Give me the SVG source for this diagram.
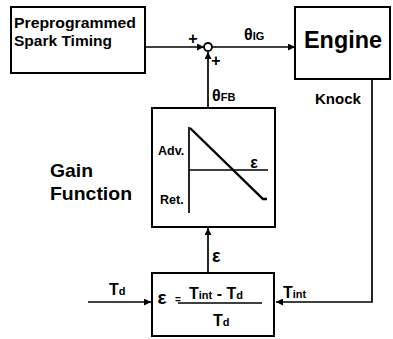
<svg xmlns="http://www.w3.org/2000/svg" width="393" height="339" viewBox="0 0 393 339">
<defs>
<style>
.box{fill:#fff;stroke:#000;stroke-width:2}
.ln{fill:none;stroke:#000;stroke-width:1.7}
.t{font-family:"Liberation Sans",Arial,sans-serif;font-weight:bold;fill:#000}
</style>
<marker id="ah" viewBox="0 0 10 10" refX="10" refY="5" markerWidth="7" markerHeight="7" markerUnits="userSpaceOnUse" orient="auto"><path d="M0,0 L10,5 L0,10 z" fill="#000"/></marker>
</defs>
<rect width="393" height="339" fill="#fff"/>
<g id="connectors">
<path class="ln" d="M145,47 H204" marker-end="url(#ah)"/>
<path class="ln" d="M212,47 H295" marker-end="url(#ah)"/>
<path class="ln" d="M208,108 V52" marker-end="url(#ah)"/>
<path class="ln" d="M208,273 V228" marker-end="url(#ah)"/>
<path class="ln" d="M88,302 H151" marker-end="url(#ah)"/>
<path class="ln" d="M372,79 V302 H276" marker-end="url(#ah)"/>
</g>
<g id="preprogrammed">
<rect class="box" x="11" y="7" width="134" height="66"/>
<text class="t" x="14" y="28" font-size="14" textLength="122" lengthAdjust="spacingAndGlyphs">Preprogrammed</text>
<text class="t" x="14" y="46" font-size="14" textLength="98" lengthAdjust="spacingAndGlyphs">Spark Timing</text>
</g>
<g id="sum">
<circle cx="208" cy="47" r="4" fill="#fff" stroke="#000" stroke-width="1.8"/>
<text class="t" x="193" y="44" font-size="16" text-anchor="middle">+</text>
<text class="t" x="216" y="66" font-size="16" text-anchor="middle">+</text>
</g>
<g id="engine">
<rect class="box" x="295" y="7" width="95" height="72"/>
<text class="t" x="343" y="48" font-size="24" text-anchor="middle" textLength="78" lengthAdjust="spacingAndGlyphs">Engine</text>
</g>
<g id="gain">
<rect class="box" x="152" y="108" width="123" height="119"/>
<path class="ln" d="M189,127 V213 M189,170 H268"/>
<path d="M190,128 L263,199 H267" fill="none" stroke="#000" stroke-width="2.4"/>
<text class="t" x="158" y="155" font-size="12.5">Adv.</text>
<text class="t" x="160" y="204" font-size="12.5">Ret.</text>
<text class="t" x="254" y="168" font-size="16" text-anchor="middle">ε</text>
</g>
<g id="formula">
<rect class="box" x="152" y="273" width="122" height="63"/>
<text class="t" x="162" y="304" font-size="19" text-anchor="middle">ε</text>
<text class="t" x="178" y="303" font-size="10" text-anchor="middle">=</text>
<text class="t" x="189" y="299" font-size="16">T<tspan font-size="11">int</tspan> - T<tspan font-size="11">d</tspan></text>
<path d="M178,303 H262" stroke="#000" stroke-width="1.5"/>
<text class="t" x="213" y="326" font-size="16">T<tspan font-size="11">d</tspan></text>
</g>
<g id="labels">
<text class="t" x="244" y="40" font-size="16">θ<tspan font-size="11">IG</tspan></text>
<text class="t" x="212" y="101" font-size="16">θ<tspan font-size="11">FB</tspan></text>
<text class="t" x="315" y="104" font-size="14" textLength="46" lengthAdjust="spacingAndGlyphs">Knock</text>
<text class="t" x="50" y="177" font-size="19" textLength="43" lengthAdjust="spacingAndGlyphs">Gain</text>
<text class="t" x="50" y="200" font-size="19" textLength="82" lengthAdjust="spacingAndGlyphs">Function</text>
<text class="t" x="212" y="262" font-size="18">ε</text>
<text class="t" x="109" y="295" font-size="16">T<tspan font-size="11">d</tspan></text>
<text class="t" x="283" y="298" font-size="16">T<tspan font-size="11">int</tspan></text>
</g>
</svg>
